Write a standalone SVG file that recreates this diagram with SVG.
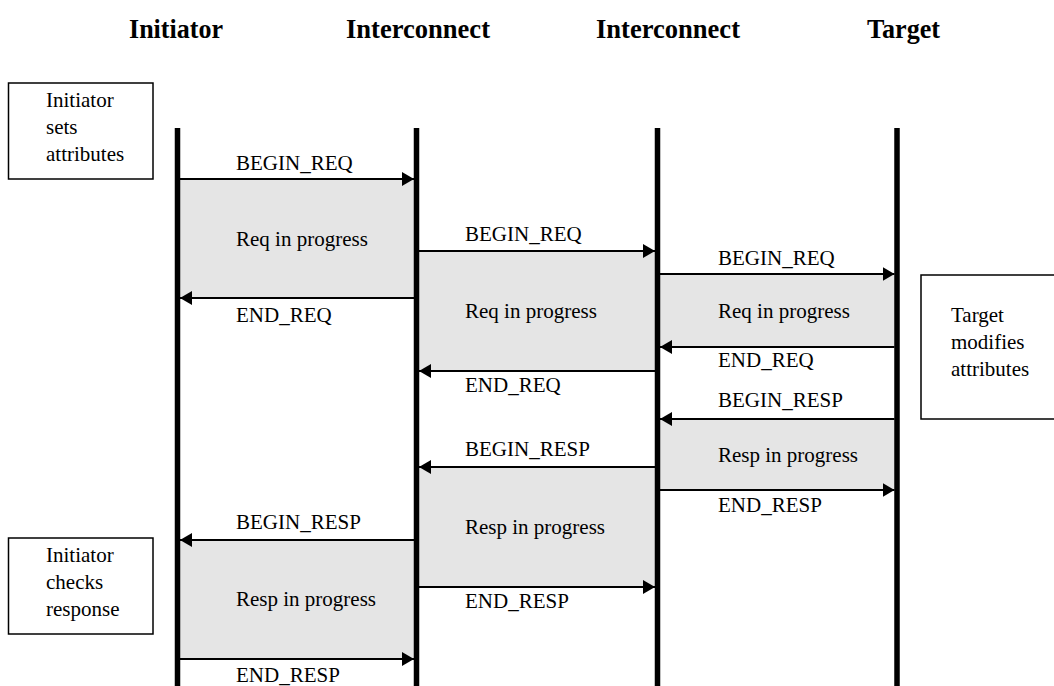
<svg xmlns="http://www.w3.org/2000/svg" width="1054" height="686" viewBox="0 0 1054 686">
<style>
.hdr{font-family:"Liberation Serif","Times New Roman",serif;font-weight:bold;font-size:27px;fill:#000}
.lbl{font-family:"Liberation Serif","Times New Roman",serif;font-size:21px;fill:#000}
.life{stroke:#000;stroke-width:5.5}
.box{fill:#fff;stroke:#000;stroke-width:1.5}
.gray{fill:#e5e5e5;stroke:none}
.arr{stroke:#000;stroke-width:2;fill:none}
</style>
<defs>
<marker id="ah" viewBox="0 0 12 14" refX="12" refY="7" markerWidth="12" markerHeight="14" markerUnits="userSpaceOnUse" orient="auto">
<path d="M0,0 L12,7 L0,14 Z" fill="#000"/>
</marker>
</defs>
<rect width="1054" height="686" fill="#fff"/>
<g id="headers">
<text class="hdr" x="129" y="38" textLength="94" lengthAdjust="spacingAndGlyphs">Initiator</text>
<text class="hdr" x="346" y="38" textLength="144" lengthAdjust="spacingAndGlyphs">Interconnect</text>
<text class="hdr" x="596" y="38" textLength="144" lengthAdjust="spacingAndGlyphs">Interconnect</text>
<text class="hdr" x="867" y="38" textLength="73" lengthAdjust="spacingAndGlyphs">Target</text>
</g>
<g id="activity">
<rect class="gray" x="180" y="179" width="234" height="119"/>
<rect class="gray" x="419" y="251" width="236" height="120"/>
<rect class="gray" x="660" y="274" width="235" height="73"/>
<rect class="gray" x="660" y="419" width="235" height="71"/>
<rect class="gray" x="419" y="467" width="236" height="120"/>
<rect class="gray" x="180" y="540" width="234" height="119"/>
<text class="lbl" x="236" y="246">Req in progress</text>
<text class="lbl" x="465" y="318">Req in progress</text>
<text class="lbl" x="718" y="318">Req in progress</text>
<text class="lbl" x="718" y="462">Resp in progress</text>
<text class="lbl" x="465" y="534">Resp in progress</text>
<text class="lbl" x="236" y="606">Resp in progress</text>
</g>
<g id="lifelines">
<line class="life" x1="177.5" y1="128" x2="177.5" y2="686"/>
<line class="life" x1="416.5" y1="128" x2="416.5" y2="686"/>
<line class="life" x1="657.5" y1="128" x2="657.5" y2="686"/>
<line class="life" x1="897" y1="128" x2="897" y2="686"/>
</g>
<g id="box-init-sets">
<rect class="box" x="8.5" y="83" width="144.5" height="96"/>
<text class="lbl" x="46" y="107">Initiator</text>
<text class="lbl" x="46" y="134">sets</text>
<text class="lbl" x="46" y="161">attributes</text>
</g>
<g id="box-target">
<rect class="box" x="921" y="275" width="140" height="144"/>
<text class="lbl" x="951" y="322">Target</text>
<text class="lbl" x="951" y="349">modifies</text>
<text class="lbl" x="951" y="376">attributes</text>
</g>
<g id="box-init-checks">
<rect class="box" x="8.5" y="538" width="144.5" height="96"/>
<text class="lbl" x="46" y="562">Initiator</text>
<text class="lbl" x="46" y="589">checks</text>
<text class="lbl" x="46" y="616">response</text>
</g>
<g id="connectors">
<line class="arr" x1="180" y1="179" x2="414" y2="179" marker-end="url(#ah)"/>
<line class="arr" x1="414" y1="298" x2="180" y2="298" marker-end="url(#ah)"/>
<line class="arr" x1="419" y1="251" x2="655" y2="251" marker-end="url(#ah)"/>
<line class="arr" x1="660" y1="274" x2="894.5" y2="274" marker-end="url(#ah)"/>
<line class="arr" x1="894.5" y1="347" x2="660" y2="347" marker-end="url(#ah)"/>
<line class="arr" x1="655" y1="371" x2="419" y2="371" marker-end="url(#ah)"/>
<line class="arr" x1="894.5" y1="419" x2="660" y2="419" marker-end="url(#ah)"/>
<line class="arr" x1="660" y1="490" x2="894.5" y2="490" marker-end="url(#ah)"/>
<line class="arr" x1="655" y1="467" x2="419" y2="467" marker-end="url(#ah)"/>
<line class="arr" x1="419" y1="587" x2="655" y2="587" marker-end="url(#ah)"/>
<line class="arr" x1="414" y1="540" x2="180" y2="540" marker-end="url(#ah)"/>
<line class="arr" x1="180" y1="659" x2="414" y2="659" marker-end="url(#ah)"/>
</g>
<g id="connector-labels">
<text class="lbl" x="236" y="170">BEGIN_REQ</text>
<text class="lbl" x="236" y="322">END_REQ</text>
<text class="lbl" x="465" y="241">BEGIN_REQ</text>
<text class="lbl" x="718" y="265">BEGIN_REQ</text>
<text class="lbl" x="718" y="367">END_REQ</text>
<text class="lbl" x="465" y="392">END_REQ</text>
<text class="lbl" x="718" y="407">BEGIN_RESP</text>
<text class="lbl" x="718" y="512">END_RESP</text>
<text class="lbl" x="465" y="456">BEGIN_RESP</text>
<text class="lbl" x="465" y="608">END_RESP</text>
<text class="lbl" x="236" y="529">BEGIN_RESP</text>
<text class="lbl" x="236" y="682">END_RESP</text>
</g>
</svg>
